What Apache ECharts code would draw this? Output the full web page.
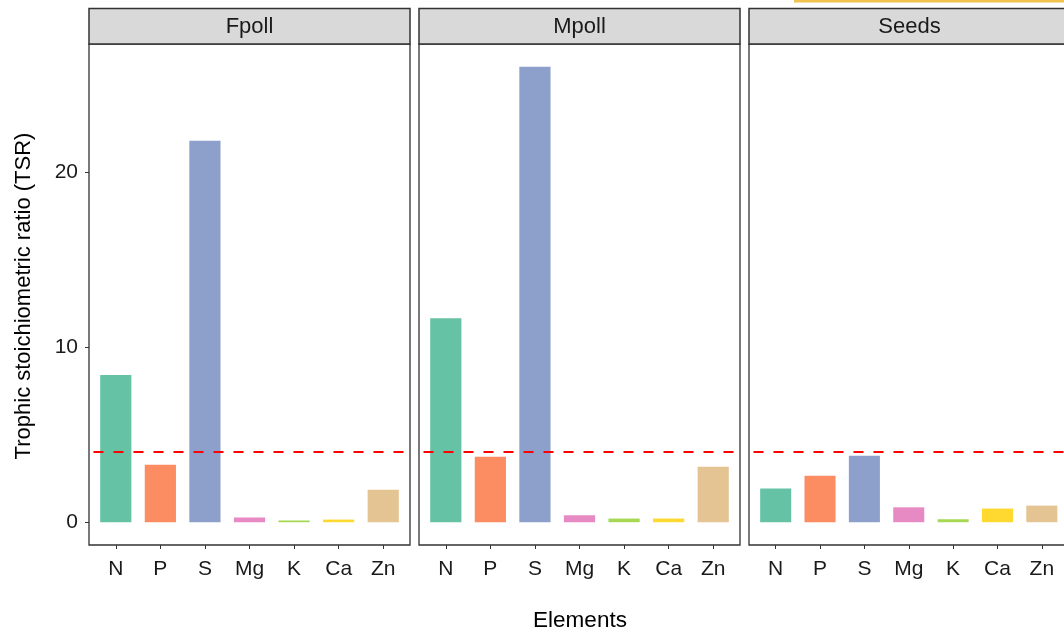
<!DOCTYPE html>
<html>
<head>
<meta charset="utf-8">
<script src="https://cdn.jsdelivr.net/npm/echarts@6/dist/echarts.min.js"></script>
<style>
html,body{margin:0;padding:0;background:#fff;}
#chart{width:1064px;height:633px;}
</style>
</head>
<body>
<div id="chart"></div>
<script>
const elements = ['N','P','S','Mg','K','Ca','Zn'];
const panels = ['Fpoll','Mpoll','Seeds'];
const fpoll = [8.41, 3.28, 21.78, 0.27, 0.10, 0.15, 1.86];
const mpoll = [11.65, 3.74, 26.0, 0.40, 0.21, 0.21, 3.17];
const seeds = [1.92, 2.66, 3.80, 0.85, 0.17, 0.78, 0.95];
const threshold = 4;
const yTicks = [0, 10, 20];
const colors = ['#66c2a5','#fc8d62','#8da0cb','#e78ac3','#a6d854','#ffd92f','#e5c494'];
const seriesData = [fpoll, mpoll, seeds];

const font = 'Liberation Sans, Arial, Helvetica, sans-serif';
const panelLeft = [89, 419, 749];
const panelW = 321;
const panelTop = 44, panelBottom = 545;
const stripTop = 8.5;
const inset = 4.5;

const chart = echarts.init(document.getElementById('chart'));

const grids = [], xAxes = [], yAxes = [], series = [], graphics = [];
panelLeft.forEach((L, i) => {
  grids.push({left: L + inset, top: panelTop, width: panelW - 2*inset, height: panelBottom - panelTop, containLabel: false});
  xAxes.push({
    type: 'category', gridIndex: i, data: elements,
    axisLine: {show: false, onZero: false},
    axisTick: {show: true, alignWithLabel: true, length: 4, lineStyle: {color: '#333', width: 1}},
    axisLabel: {fontFamily: font, fontSize: 21, color: '#1a1a1a', margin: 14}
  });
  yAxes.push({
    type: 'value', gridIndex: i, min: -1.3, max: 27.3,
    offset: inset,
    splitLine: {show: false},
    axisLine: {show: false},
    axisTick: i === 0 ? {show: true, length: 4, customValues: yTicks, lineStyle: {color: '#333'}} : {show: false},
    axisLabel: i === 0 ? {show: true, customValues: yTicks, fontFamily: font, fontSize: 21, color: '#1a1a1a', margin: 11} : {show: false}
  });
  series.push({
    type: 'bar', xAxisIndex: i, yAxisIndex: i,
    data: seriesData[i].map((v, j) => ({value: v, itemStyle: {color: colors[j]}})),
    barWidth: '70%',
    silent: true,
    markLine: {
      silent: true, symbol: 'none',
      label: {show: false},
      lineStyle: {color: '#ff0000', type: [10, 10], width: 2},
      data: [{yAxis: threshold}]
    }
  });
  graphics.push({type: 'rect', shape: {x: L, y: panelTop, width: panelW, height: panelBottom - panelTop},
    style: {fill: null, stroke: '#333', lineWidth: 1.3}, z: 10});
  graphics.push({type: 'rect', shape: {x: L, y: stripTop, width: panelW, height: panelTop - stripTop},
    style: {fill: '#d9d9d9', stroke: '#333', lineWidth: 1.5}, z: 10});
  graphics.push({type: 'text', x: L + panelW/2, y: (stripTop + panelTop)/2 + 1,
    style: {text: panels[i], fontFamily: font, fontSize: 22, fill: '#1a1a1a', align: 'center', verticalAlign: 'middle'}, z: 11});
});
graphics.push({type: 'rect', shape: {x: 794, y: 0, width: 280, height: 2.5}, style: {fill: '#f0c24e'}, z: 5});
graphics.push({type: 'text', x: 24, y: 296, rotation: Math.PI/2,
  style: {text: 'Trophic stoichiometric ratio (TSR)', fontFamily: font, fontSize: 22, fill: '#000', align: 'center', verticalAlign: 'middle'}});
graphics.push({type: 'text', x: 580, y: 621,
  style: {text: 'Elements', fontFamily: font, fontSize: 22.5, fill: '#000', align: 'center', verticalAlign: 'middle'}});

chart.setOption({
  backgroundColor: '#fff',
  animation: false,
  grid: grids, xAxis: xAxes, yAxis: yAxes, series: series,
  graphic: graphics
});
</script>
</body>
</html>
